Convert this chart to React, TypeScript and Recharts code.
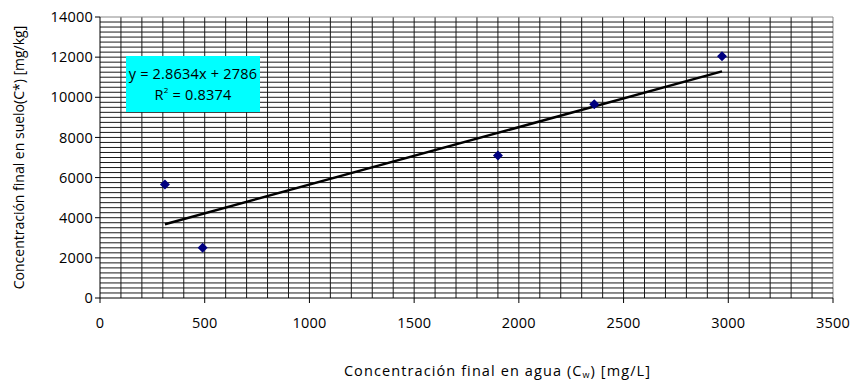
import React from 'react';
import {
  ComposedChart,
  Scatter,
  Line,
  XAxis,
  YAxis,
  ReferenceLine,
  Label,
} from 'recharts';

// measured points (Cw, C*)
const waterConc = [310, 490, 1900, 2360, 2970];
const soilConc = [5650, 2500, 7100, 9650, 12050];

// linear trend endpoints: y = 2.8634x + 2786
const trendX = [310, 2970];
const trendY = [3674, 11291];

const xTicks = [0, 500, 1000, 1500, 2000, 2500, 3000, 3500];
const yTicks = [0, 2000, 4000, 6000, 8000, 10000, 12000, 14000];

// minor grid
const xGrid = Array.from({ length: 35 }, (_, i) => (i + 1) * 100);
const yGrid = Array.from({ length: 56 }, (_, i) => (i + 1) * 250);

const points = waterConc.map((x, i) => ({ x, y: soilConc[i] }));
const trend = trendX.map((x, i) => ({ x, t: trendY[i] }));

const FONT = '"Open Sans", "DejaVu Sans", sans-serif';

const Diamond = (props: any) => {
  const { cx, cy } = props;
  if (cx == null || cy == null) return null;
  const r = 5;
  return (
    <polygon
      points={`${cx},${cy - r} ${cx + r},${cy} ${cx},${cy + r} ${cx - r},${cy}`}
      fill="#000080"
    />
  );
};

const XTitle = (props: any) => {
  const { viewBox } = props;
  const cx = viewBox.x + viewBox.width / 2 + 31;
  const y = viewBox.y + viewBox.height + 48;
  return (
    <text
      x={cx}
      y={y}
      textAnchor="middle"
      fontFamily={FONT}
      fontSize={14.5}
      letterSpacing={1.1}
      fill="#000"
    >
      Concentración final en agua (C
      <tspan dy={2} fontSize={9}>w</tspan>
      <tspan dy={-2}>) [mg/L]</tspan>
    </text>
  );
};

const YTitle = (props: any) => {
  const { viewBox } = props;
  const x = 10;
  const cy = viewBox.y + viewBox.height / 2;
  return (
    <text
      x={x}
      y={cy}
      transform={`rotate(-90, ${x}, ${cy})`}
      textAnchor="middle"
      dominantBaseline="central"
      fontFamily={FONT}
      fontSize={14}
      fill="#000"
    >
      Concentración final en suelo(C*) [mg/kg]
    </text>
  );
};

const tickStyle = { fill: '#000', fontSize: 14.5, fontFamily: FONT, letterSpacing: 0.2 };

export default function App() {
  return (
    <div style={{ width: 853, height: 380, padding: '8px 0 0 8px', boxSizing: 'border-box', background: '#fff' }}>
      <style>{'body { margin: 0; } .chart svg, .chart .recharts-wrapper { overflow: visible !important; }'}</style>
      <div className="chart" style={{ position: 'relative', width: 845, height: 372 }}>
        <ComposedChart
          width={845}
          height={372}
          margin={{ top: 9, right: 20, bottom: 52, left: 0 }}
        >
          {xGrid.map((v) => (
            <ReferenceLine key={`vx${v}`} x={v} stroke={v === 3500 ? '#888' : '#1a1a1a'} strokeWidth={1} />
          ))}
          {yGrid.map((v) => (
            <ReferenceLine key={`hy${v}`} y={v} stroke={v === 14000 ? '#888' : '#1a1a1a'} strokeWidth={1} />
          ))}
          <XAxis
            dataKey="x"
            type="number"
            domain={[0, 3500]}
            ticks={xTicks}
            interval={0}
            allowDuplicatedCategory={false}
            stroke="#000"
            tickSize={5}
            tick={{ ...tickStyle, dy: 13 }}
            height={30}
          >
            <Label content={<XTitle />} />
          </XAxis>
          <YAxis
            type="number"
            domain={[0, 14000]}
            ticks={yTicks}
            interval={0}
            stroke="#000"
            tickSize={5}
            tick={tickStyle}
            width={92}
          >
            <Label content={<YTitle />} />
          </YAxis>
          <Line
            data={trend}
            dataKey="t"
            type="linear"
            stroke="#000"
            strokeWidth={2.5}
            dot={false}
            activeDot={false}
            isAnimationActive={false}
          />
          <Scatter data={points} dataKey="y" shape={<Diamond />} isAnimationActive={false} />
        </ComposedChart>
        <div
          style={{
            position: 'absolute',
            left: 118,
            top: 48,
            width: 134,
            height: 56,
            background: '#00ffff',
            fontFamily: FONT,
            fontSize: 14.5,
            color: '#000',
            textAlign: 'center',
            lineHeight: '21px',
            paddingTop: 7,
            boxSizing: 'border-box',
            letterSpacing: 0.2,
            whiteSpace: 'nowrap',
          }}
        >
          <div>y = 2.8634x + 2786</div>
          <div>
            R<sup style={{ fontSize: 8, verticalAlign: 'top', lineHeight: '12px' }}>2</sup> = 0.8374
          </div>
        </div>
      </div>
    </div>
  );
}
